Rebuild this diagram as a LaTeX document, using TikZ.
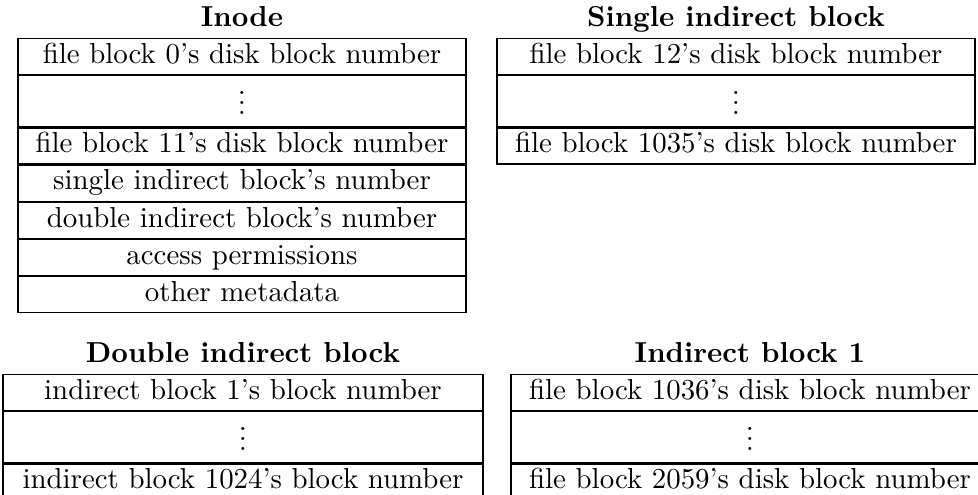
\documentclass[tikz,border=0pt]{standalone}
\newcommand{\myvdots}{\vbox{\baselineskip3.4pt\lineskiplimit0pt\hbox{.}\hbox{.}\hbox{.}}}
\begin{document}
\begin{tikzpicture}[x=1pt,y=1pt,
  every node/.style={font=\fontsize{9.63}{11.5}\selectfont},
  cell/.style={draw, line width=0.4pt, inner sep=0pt, minimum height=12pt,
    text height=8.23pt, text depth=3.77pt, anchor=north},
  dotcell/.style={draw, line width=0.4pt, inner sep=0pt, minimum height=17pt,
    text height=12.93pt, text depth=4.07pt, anchor=north},
  ttl/.style={font=\fontsize{9.63}{11.5}\selectfont\bfseries, inner sep=0pt, anchor=base}]
\useasboundingbox (0,0) rectangle (326,-165);
% Inode
\node[ttl] (tin) at (80.67,-9) {Inode};
\begin{scope}[every node/.append style={minimum width=149.33pt}]
\node[cell] (i0) at (80.67,-12.67) {file block 0's disk block number};
\node[dotcell] (i1) at (i0.south) {\myvdots};
\node[cell] (i2) at (i1.south) {file block 11's disk block number};
\node[cell] (i3) at (i2.south) {single indirect block's number};
\node[cell] (i4) at (i3.south) {double indirect block's number};
\node[cell] (i5) at (i4.south) {access permissions};
\node[cell] (i6) at (i5.south) {other metadata};
\end{scope}
% Single indirect block
\node[ttl] (tsi) at (245.33,-9) {Single indirect block};
\begin{scope}[every node/.append style={minimum width=159.33pt}]
\node[cell] (s0) at (245.33,-12.67) {file block 12's disk block number};
\node[dotcell] (s1) at (s0.south) {\myvdots};
\node[cell] (s2) at (s1.south) {file block 1035's disk block number};
\end{scope}
% Double indirect block
\node[ttl] (tdi) at (81,-120.9) {Double indirect block};
\begin{scope}[every node/.append style={minimum width=160pt}]
\node[cell] (d0) at (81,-124.67) {indirect block 1's block number};
\node[dotcell] (d1) at (d0.south) {\myvdots};
\node[cell] (d2) at (d1.south) {indirect block 1024's block number};
\end{scope}
% Indirect block 1
\node[ttl] (tib) at (250,-120.9) {Indirect block 1};
\begin{scope}[every node/.append style={minimum width=159.33pt}]
\node[cell] (b0) at (250,-124.67) {file block 1036's disk block number};
\node[dotcell] (b1) at (b0.south) {\myvdots};
\node[cell] (b2) at (b1.south) {file block 2059's disk block number};
\end{scope}
\end{tikzpicture}
\end{document}
